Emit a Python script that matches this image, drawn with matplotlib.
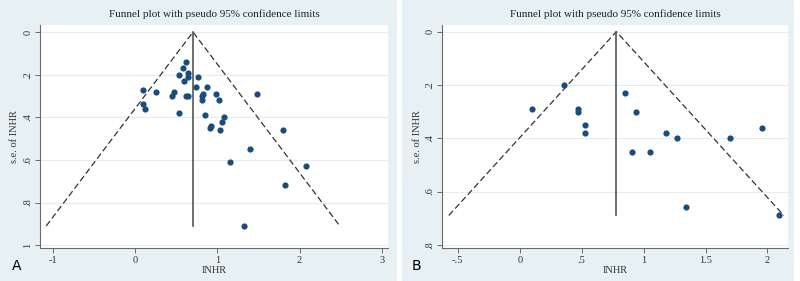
import matplotlib.pyplot as plt
from matplotlib.patches import Rectangle
import numpy as np

# Panel A: lnHR estimates and their standard errors
a_lnhr = [0.62, 0.58, 0.64, 0.54, 0.65, 0.77, 0.60, 0.10, 0.25, 0.47, 0.45, 0.62,
          0.64, 0.74, 0.88, 0.83, 0.99, 0.82, 0.81, 1.02, 1.48, 0.10, 0.12, 0.53,
          0.85, 1.08, 1.06, 0.92, 0.91, 1.03, 1.80, 1.40, 1.16, 2.08, 1.82, 1.32]
a_se = [0.14, 0.17, 0.19, 0.20, 0.21, 0.21, 0.23, 0.27, 0.28, 0.28, 0.30, 0.30,
        0.30, 0.26, 0.26, 0.29, 0.29, 0.30, 0.32, 0.32, 0.29, 0.34, 0.36, 0.38,
        0.39, 0.40, 0.42, 0.44, 0.45, 0.46, 0.46, 0.55, 0.61, 0.63, 0.72, 0.91]
a_pooled = 0.705

# Panel B
b_lnhr = [0.36, 0.10, 0.47, 0.47, 0.53, 0.53, 0.85, 0.94, 0.91, 1.05, 1.18, 1.27,
          1.70, 1.96, 1.34, 2.09]
b_se = [0.20, 0.29, 0.29, 0.30, 0.35, 0.38, 0.23, 0.30, 0.45, 0.45, 0.38, 0.40,
        0.40, 0.36, 0.66, 0.69]
b_pooled = 0.78

a_xticks = [-1, 0, 1, 2, 3]
a_xlabels = ['-1', '0', '1', '2', '3']
a_yticks = [0, 0.2, 0.4, 0.6, 0.8, 1.0]
a_ylabels = ['0', '.2', '.4', '.6', '.8', '1']
b_xticks = [-0.5, 0, 0.5, 1, 1.5, 2]
b_xlabels = ['-.5', '0', '.5', '1', '1.5', '2']
b_yticks = [0, 0.2, 0.4, 0.6, 0.8]
b_ylabels = ['0', '.2', '.4', '.6', '.8']

title = 'Funnel plot with pseudo 95% confidence limits'
bg = '#e7f0f3'
dot = '#1b4c7c'
axcol = '#6b6b6b'

plt.rcParams['font.family'] = ['Liberation Serif', 'DejaVu Serif']

fig = plt.figure(figsize=(8, 2.81), dpi=100, facecolor='white')
fig.patches.append(Rectangle((0, 0), 397 / 800, 1, transform=fig.transFigure,
                             facecolor=bg, edgecolor='none', zorder=-10))
fig.patches.append(Rectangle((402 / 800, 0), 392 / 800, 1, transform=fig.transFigure,
                             facecolor=bg, edgecolor='none', zorder=-10))


def funnel(ax, x, se, pooled, xlim, ylim, xt, xl, yt, yl):
    ax.set_facecolor('white')
    semax = max(se)
    ax.plot([pooled - 1.96 * semax, pooled, pooled + 1.96 * semax],
            [semax, 0, semax], ls=(0, (5, 2.5)), color='#333333', lw=0.9, zorder=2)
    ax.plot([pooled, pooled], [0, semax], color='#555555', lw=1.2, zorder=2)
    ax.scatter(x, se, s=20, color=dot, zorder=3, linewidths=0)
    ax.set_xlim(xlim)
    ax.set_ylim(ylim)
    ax.set_xticks(xt)
    ax.set_xticklabels(xl)
    ax.set_yticks(yt)
    ax.set_yticklabels(yl, rotation=90, va='center')
    for t in yt:
        ax.axhline(t, color='#e4ecee', lw=0.8, zorder=0)
    for s in ['top', 'right']:
        ax.spines[s].set_visible(False)
    for s in ['left', 'bottom']:
        ax.spines[s].set_color(axcol)
        ax.spines[s].set_linewidth(0.8)
    ax.tick_params(colors='#333333', labelsize=7.5, length=3.5, width=0.7, pad=2)
    ax.tick_params(axis='both', color=axcol)
    ax.set_xlabel('INHR', fontsize=7.5, labelpad=1, color='#333333')
    ax.set_ylabel('s.e. of INHR', fontsize=7.5, labelpad=3, color='#333333')
    ax.set_title(title, fontsize=8, pad=6, color='#222222')


axA = fig.add_axes([0.05, 0.117, 0.435, 0.794])
funnel(axA, a_lnhr, a_se, a_pooled, (-1.154, 3.074), (1.014, -0.033),
       a_xticks, a_xlabels, a_yticks, a_ylabels)
axB = fig.add_axes([0.553, 0.117, 0.432, 0.794])
funnel(axB, b_lnhr, b_se, b_pooled, (-0.624, 2.166), (0.8125, -0.025),
       b_xticks, b_xlabels, b_yticks, b_ylabels)

fig.text(12 / 800, 1 - 266 / 281, 'A', family='DejaVu Sans', fontsize=10, va='center')
fig.text(412 / 800, 1 - 266 / 281, 'B', family='DejaVu Sans', fontsize=10, va='center')

fig.savefig('out.png', dpi=100, facecolor=fig.get_facecolor())
